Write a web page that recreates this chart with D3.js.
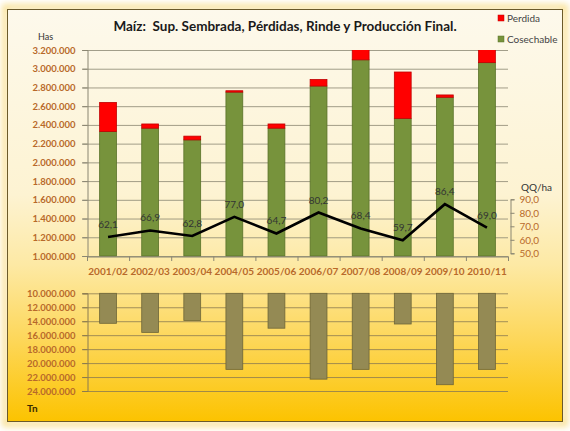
<!DOCTYPE html>
<html><head><meta charset="utf-8">
<script src="https://cdn.jsdelivr.net/npm/d3@7"></script>
<style>html,body{margin:0;padding:0;background:#fff;}svg{display:block;}</style>
</head><body><svg id="c" width="570" height="431"></svg>
<script>
const categories = ["2001/02","2002/03","2003/04","2004/05","2005/06","2006/07","2007/08","2008/09","2009/10","2010/11"];
const cosechable = [2330000,2365000,2240000,2750000,2365000,2815000,3095000,2470000,2695000,3065000];
const perdida = [310000,45000,40000,15000,45000,70000,150000,495000,25000,200000];
const rinde = [62.1,66.9,62.8,77.0,64.7,80.2,68.4,59.7,86.4,69.0];
const produccion = [14300000,15600000,13900000,20900000,15000000,22300000,20900000,14400000,23100000,20900000];
const hasTicks = [1000000,1200000,1400000,1600000,1800000,2000000,2200000,2400000,2600000,2800000,3000000,3200000];
const rindeTicks = [50,60,70,80,90];
const tnTicks = [10000000,12000000,14000000,16000000,18000000,20000000,22000000,24000000];

const svg = d3.select("#c");
const defs = svg.append("defs");
const g = defs.append("linearGradient").attr("id","bg").attr("x1",0).attr("y1",0).attr("x2",0).attr("y2",1);
[[0,"#fdf9ec"],[0.45,"#fdf3d2"],[0.62,"#fde9a4"],[0.8,"#fdd75a"],[1,"#fcc300"]].forEach(s=>g.append("stop").attr("offset",s[0]).attr("stop-color",s[1]));
const blur = defs.append("filter").attr("id","glow").attr("x","-5%").attr("y","-5%").attr("width","110%").attr("height","110%");
blur.append("feGaussianBlur").attr("stdDeviation",3);
const clip = defs.append("clipPath").attr("id","pclip");

// frame
svg.append("rect").attr("x",5).attr("y",7).attr("width",560).attr("height",417).attr("fill","none")
  .attr("stroke","#f9e29a").attr("stroke-width",6).attr("filter","url(#glow)");
svg.append("rect").attr("x",7.5).attr("y",9.5).attr("width",555).attr("height",412)
  .attr("fill","url(#bg)").attr("stroke","#6b5a2a").attr("stroke-width",1);

const font = "Lato, 'Liberation Sans', sans-serif";
const tickCol = "#b8692a";
const x = d3.scaleBand().domain(categories).range([87,508]).paddingInner(0.6).paddingOuter(0.3);
const yH = d3.scaleLinear().domain([1000000,3200000]).range([256,50]);
const yR = d3.scaleLinear().domain([50,90]).range([253.3,199.3]);
const yT = d3.scaleLinear().domain([10000000,24000000]).range([293.3,391]);
const fmt = v => d3.format(",")(v).replace(/,/g,".");
const fmt1 = v => v.toFixed(1).replace(".",",");

clip.append("rect").attr("x",80).attr("y",50).attr("width",440).attr("height",210);

// upper gridlines
svg.append("g").selectAll("line").data(hasTicks).join("line")
  .attr("x1",82).attr("x2",508).attr("y1",d=>yH(d)+0.5).attr("y2",d=>yH(d)+0.5)
  .attr("stroke","#8a8672").attr("stroke-width",0.8);
const axL = svg.append("g").attr("transform","translate(87.5,0)")
  .call(d3.axisLeft(yH).tickValues(hasTicks).tickFormat(fmt).tickSize(5).tickPadding(7));
axL.select(".domain").attr("stroke","#8a8672");
axL.selectAll(".tick line").attr("stroke","#8a8672");
axL.selectAll("text").attr("font-family",font).attr("font-weight","bold").attr("font-size","9.5px").attr("fill",tickCol);

// bars upper
const stack = categories.map((c,i)=>({c,cos:cosechable[i],per:perdida[i]}));
const bars = svg.append("g").attr("clip-path","url(#pclip)");
bars.selectAll("rect.cos").data(stack).join("rect").attr("class","cos")
  .attr("x",d=>x(d.c)).attr("width",x.bandwidth())
  .attr("y",d=>yH(d.cos)).attr("height",d=>yH(1000000)-yH(d.cos))
  .attr("fill","#77933c").attr("stroke","#5a7229").attr("stroke-width",0.8);
bars.selectAll("rect.per").data(stack).join("rect").attr("class","per")
  .attr("x",d=>x(d.c)).attr("width",x.bandwidth())
  .attr("y",d=>yH(d.cos+d.per)).attr("height",d=>yH(d.cos)-yH(d.cos+d.per))
  .attr("fill","#ff0000").attr("stroke","#c00000").attr("stroke-width",0.8);

// x axis
const axB = svg.append("g").attr("transform","translate(0,256.5)")
  .call(d3.axisBottom(x).tickSize(0).tickPadding(11));
axB.select(".domain").attr("stroke","#8a8672");
axB.selectAll("text").attr("font-family",font).attr("font-weight","bold").attr("font-size","10px").attr("fill",tickCol);
svg.append("g").selectAll("line").data(d3.range(categories.length+1)).join("line")
  .attr("x1",i=>87.5+i*x.step()).attr("x2",i=>87.5+i*x.step()).attr("y1",256.5).attr("y2",261)
  .attr("stroke","#8a8672");

// right axis
const axR = svg.append("g").attr("transform","translate(510.5,0)")
  .call(d3.axisRight(yR).tickValues(rindeTicks).tickFormat(fmt1).tickSize(4).tickPadding(5));
axR.select(".domain").attr("stroke","#8a8672");
axR.selectAll(".tick line").attr("stroke","#8a8672");
axR.selectAll("text").attr("font-family",font).attr("font-size","10px").attr("fill",tickCol);
svg.append("text").attr("x",521).attr("y",191).text("QQ/ha").attr("font-family",font).attr("font-size","10px").attr("fill","#333");

// line
const cx = c => x(c)+x.bandwidth()/2;
svg.append("path").datum(categories).attr("fill","none").attr("stroke","#000").attr("stroke-width",2.6)
  .attr("stroke-linejoin","miter")
  .attr("d",d3.line().x(c=>cx(c)).y((c,i)=>yR(rinde[i])));
svg.append("g").selectAll("text").data(categories).join("text")
  .attr("x",c=>cx(c)).attr("y",(c,i)=>yR(rinde[i])-9).attr("text-anchor","middle")
  .attr("font-family",font).attr("font-size","10px").attr("fill","#333")
  .text((c,i)=>fmt1(rinde[i]));

// lower chart
svg.append("g").selectAll("line").data(tnTicks).join("line")
  .attr("x1",82).attr("x2",508).attr("y1",d=>yT(d)+0.5).attr("y2",d=>yT(d)+0.5)
  .attr("stroke","#8a7a50").attr("stroke-width",0.8);
const axT = svg.append("g").attr("transform","translate(87.5,0)")
  .call(d3.axisLeft(yT).tickValues(tnTicks).tickFormat(fmt).tickSize(5).tickPadding(7));
axT.select(".domain").attr("stroke","#8a7a50");
axT.selectAll(".tick line").attr("stroke","#8a7a50");
axT.selectAll("text").attr("font-family",font).attr("font-weight","bold").attr("font-size","9.5px").attr("fill",tickCol);
svg.append("g").selectAll("rect").data(categories).join("rect")
  .attr("x",c=>x(c)).attr("width",x.bandwidth())
  .attr("y",yT(10000000)).attr("height",(c,i)=>yT(produccion[i])-yT(10000000))
  .attr("fill","#948a54").attr("stroke","#6e6638").attr("stroke-width",0.8);

// labels
svg.append("text").attr("x",38).attr("y",40).text("Has").attr("font-family",font).attr("font-size","9px").attr("fill","#333");
svg.append("text").attr("x",27).attr("y",412).text("Tn").attr("font-family",font).attr("font-weight","bold").attr("font-size","10px").attr("fill","#3a2a00");
svg.append("text").attr("x",285).attr("y",31).attr("text-anchor","middle")
  .attr("font-family",font).attr("font-weight","bold").attr("font-size","13.5px").attr("fill","#1a1a1a")
  .attr("xml:space","preserve")
  .text("Maíz:  Sup. Sembrada, Pérdidas, Rinde y Producción Final.");

// legend
const leg = [["Perdida","#ff0000","#c00000",18],["Cosechable","#77933c","#5a7229",39]];
const lg = svg.append("g").selectAll("g").data(leg).join("g");
lg.append("rect").attr("x",498).attr("y",d=>d[3]-3).attr("width",6).attr("height",6).attr("fill",d=>d[1]).attr("stroke",d=>d[2]).attr("stroke-width",0.5);
lg.append("text").attr("x",507).attr("y",d=>d[3]+3.5).text(d=>d[0]).attr("font-family",font).attr("font-size","10px").attr("fill","#444");
</script></body></html>
